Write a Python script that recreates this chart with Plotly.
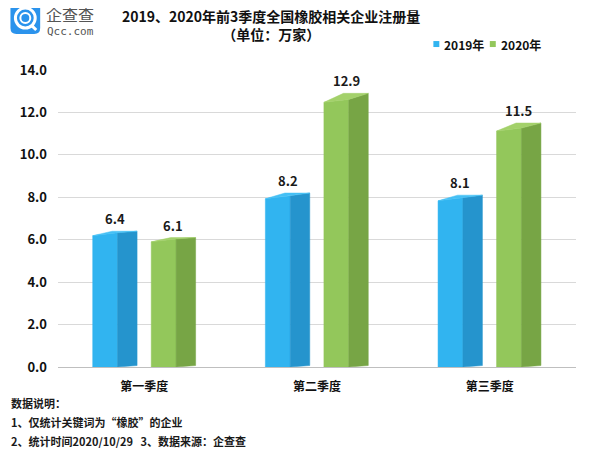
import plotly.graph_objects as go

# ---------------- data ----------------
categories = ["第一季度", "第二季度", "第三季度"]
series_names = ["2019年", "2020年"]
values_2019 = [6.4, 8.2, 8.1]
values_2020 = [6.1, 12.9, 11.5]
y_ticks = [0, 2, 4, 6, 8, 10, 12, 14]

title_line1 = "2019、2020年前3季度全国橡胶相关企业注册量"
title_line2 = "（单位：万家）"
notes = ["数据说明：", "1、仅统计关键词为“橡胶”的企业", "2、统计时间2020/10/29&nbsp;&nbsp;&nbsp;3、数据来源：企查查"]

# ---------------- style ----------------
OFF = 8                      # page body margin of the browser
W, H = 600 - OFF, 462 - OFF
L, R, T, B = 53 - OFF, 24, 70 - OFF, 94.5
FONT = "Noto Sans CJK SC"
face_colors = [
    dict(front="#31B4F0", side="#2594CD", top="#45C0F5"),
    dict(front="#93C75B", side="#77A545", top="#A3D16A"),
]
front_start = [-0.299, 0.040]   # offset of front face from category centre (axis units)
front_w = 0.144
side_w = 0.113

def px2x(px):
    return (px - OFF - L) / (W - L - R)

def py2y(py):
    return (H - B - (py - OFF)) / (H - T - B)

fig = go.Figure()

for s, vals in enumerate([values_2019, values_2020]):
    col = face_colors[s]
    for c, v in enumerate(vals):
        x0 = c + front_start[s]
        x1 = x0 + front_w
        x2 = x1 + side_w
        dl = 0.033 * v
        dr = max(dl - 0.14, 0.03)
        # front face
        fig.add_trace(go.Scatter(
            x=[x0, x1, x1, x0, x0], y=[0, 0, v - dr, v - dl, 0],
            fill="toself", fillcolor=col["front"], mode="lines",
            line=dict(color=col["front"], width=0.5), showlegend=False, hoverinfo="skip"))
        # side face
        fig.add_trace(go.Scatter(
            x=[x1, x2, x2, x1, x1], y=[0, 0.07, v, v - dr, 0],
            fill="toself", fillcolor=col["side"], mode="lines",
            line=dict(color=col["side"], width=0.5), showlegend=False, hoverinfo="skip"))
        # top face
        fig.add_trace(go.Scatter(
            x=[x0, x1, x2, x0 + side_w, x0], y=[v - dl, v - dr, v, v, v - dl],
            fill="toself", fillcolor=col["top"], mode="lines",
            line=dict(color=col["top"], width=0.5), showlegend=False, hoverinfo="skip"))
        # value label
        fig.add_annotation(x=(x0 + x2) / 2, y=v, text=f"<b>{v:.1f}</b>",
                           showarrow=False, yanchor="bottom", yshift=1,
                           font=dict(family=FONT, size=13, color="#1a1a1a"))

annotations = []
shapes = []

# titles
annotations.append(dict(xref="paper", yref="paper", x=px2x(268), y=py2y(24.5),
                        text=f"<b>{title_line1}</b><br><b>{title_line2}</b>",
                        showarrow=False, xanchor="center", yanchor="middle", align="center",
                        font=dict(family=FONT, size=14, color="#111")))

# manual legend
leg_sq_x = [432, 489]
for i, name in enumerate(series_names):
    sx = leg_sq_x[i]
    shapes.append(dict(type="rect", xref="paper", yref="paper",
                       x0=px2x(sx), x1=px2x(sx + 6), y0=py2y(47), y1=py2y(41),
                       fillcolor=face_colors[i]["front"], line=dict(width=0)))
    annotations.append(dict(xref="paper", yref="paper", x=px2x(sx + 9), y=py2y(44.5),
                            text=f"<b>{name}</b>", showarrow=False, xanchor="left", yanchor="middle",
                            font=dict(family=FONT, size=12, color="#111")))

# footer notes
for i, t in enumerate(notes):
    annotations.append(dict(xref="paper", yref="paper", x=px2x(4), y=py2y(403.5 + 19.3 * i),
                            text=f"<b>{t}</b>", showarrow=False, xanchor="left", yanchor="middle",
                            font=dict(family=FONT, size=11, color="#1a1a1a")))

# logo
def rounded_rect_path(x0, y0, x1, y1, r):
    X = px2x; Y = py2y
    return (f"M {X(x0 + r)} {Y(y0)} L {X(x1 - r)} {Y(y0)} Q {X(x1)} {Y(y0)} {X(x1)} {Y(y0 + r)} "
            f"L {X(x1)} {Y(y1 - r)} Q {X(x1)} {Y(y1)} {X(x1 - r)} {Y(y1)} "
            f"L {X(x0 + r)} {Y(y1)} Q {X(x0)} {Y(y1)} {X(x0)} {Y(y1 - r)} "
            f"L {X(x0)} {Y(y0 + r)} Q {X(x0)} {Y(y0)} {X(x0 + r)} {Y(y0)} Z")

shapes.append(dict(type="path", xref="paper", yref="paper", path=rounded_rect_path(5, 2, 35, 34, 6),
                   fillcolor="#2B93EC", line=dict(width=0)))
shapes.append(dict(type="circle", xref="paper", yref="paper",
                   x0=px2x(10), x1=px2x(30), y0=py2y(28), y1=py2y(8),
                   line=dict(color="white", width=3)))
shapes.append(dict(type="circle", xref="paper", yref="paper",
                   x0=px2x(15), x1=px2x(25), y0=py2y(23), y1=py2y(13),
                   line=dict(color="white", width=2)))
shapes.append(dict(type="line", xref="paper", yref="paper",
                   x0=px2x(26), x1=px2x(31), y0=py2y(25), y1=py2y(30),
                   line=dict(color="white", width=3)))
annotations.append(dict(xref="paper", yref="paper", x=px2x(39), y=py2y(14), text="企查查",
                        showarrow=False, xanchor="left", yanchor="middle",
                        font=dict(family=FONT, size=16, color="#555")))
annotations.append(dict(xref="paper", yref="paper", x=px2x(40), y=py2y(31), text="Qcc.com",
                        showarrow=False, xanchor="left", yanchor="middle",
                        font=dict(family="DejaVu Sans Mono", size=11, color="#555")))

fig.update_layout(
    width=W, height=H,
    margin=dict(l=L, r=R, t=T, b=B),
    paper_bgcolor="white", plot_bgcolor="white",
    showlegend=False,
    annotations=list(fig.layout.annotations) + annotations,
    shapes=shapes,
    xaxis=dict(range=[-0.5, 2.5], tickvals=list(range(len(categories))), ticktext=categories,
               showgrid=False, zeroline=False, showline=True, linecolor="#BFBFBF", linewidth=1,
               ticks="", tickfont=dict(family=FONT, size=12, color="#111", weight="bold"),
               ticklabelstandoff=9, fixedrange=True),
    yaxis=dict(range=[0, 14], tickvals=y_ticks, tickformat=".1f",
               showgrid=True, gridcolor="#D9D9D9", gridwidth=1, zeroline=False,
               showline=False, ticks="", ticklabelstandoff=10,
               tickfont=dict(family=FONT, size=13, color="#111", weight="bold"), fixedrange=True),
)

fig.write_html("out.html")
